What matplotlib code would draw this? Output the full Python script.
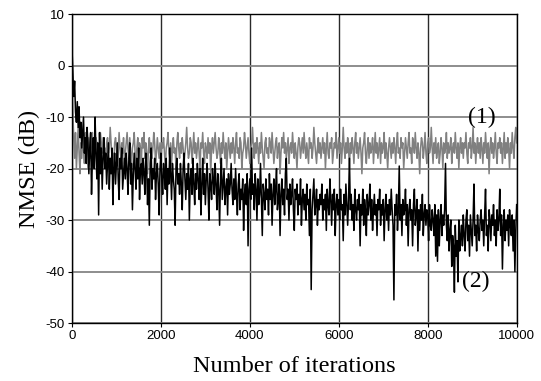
import numpy as np
import matplotlib
matplotlib.use("Agg")
import matplotlib.pyplot as plt

# iterations sampled every 20 steps
step = 20
n_iter = 10000

# curve (1), gray, NMSE in dB
nmse_1 = [
    -3, -9, -14, -18, -13, -20, -16, -12, -17, -21, -15, -18, -14, -16, -19, -13, -17, -15, -20, -14,
    -16, -18, -15, -13, -17, -19, -16, -14, -15, -18, -20, -16, -13, -15, -17, -14, -18, -16, -19, -15,
    -14, -17, -16, -12, -15, -18, -17, -20, -15, -14, -16, -19, -17, -13, -16, -18, -15, -17, -14, -19,
    -17, -15, -13, -16, -18, -14, -17, -19, -16, -15, -13, -17, -20, -16, -14, -18, -15, -16, -19, -14,
    -16, -13, -18, -15, -17, -21, -16, -14, -17, -15, -18, -16, -13, -15, -19, -17, -14, -16, -18, -15,
    -19, -15, -16, -14, -17, -20, -16, -15, -13, -17, -18, -15, -19, -16, -14, -17, -16, -20, -15, -13,
    -16, -18, -15, -17, -14, -16, -19, -17, -15, -12, -16, -18, -17, -14, -15, -19, -16, -13, -17, -15,
    -18, -16, -14, -17, -20, -15, -16, -13, -17, -19, -15, -16, -18, -14, -17, -15, -21, -16, -14, -17,
    -15, -13, -16, -18, -17, -14, -16, -19, -15, -17, -13, -16, -18, -15, -20, -17, -14, -16, -18, -15,
    -17, -14, -16, -19, -15, -13, -17, -16, -18, -14, -15, -20, -17, -16, -13, -15, -18, -16, -14, -17,
    -19, -16, -15, -12, -16, -18, -15, -17, -14, -16, -19, -15, -17, -13, -16, -18, -20, -15, -14, -17,
    -16, -18, -14, -15, -17, -13, -16, -19, -17, -15, -14, -18, -16, -15, -21, -17, -14, -16, -13, -17,
    -15, -18, -16, -14, -19, -16, -15, -17, -13, -16, -18, -15, -17, -20, -16, -14, -15, -18, -16, -14,
    -17, -13, -16, -18, -15, -17, -19, -14, -16, -15, -18, -16, -12, -15, -17, -19, -16, -14, -17, -15,
    -18, -16, -14, -17, -15, -20, -16, -13, -17, -18, -15, -16, -14, -19, -17, -15, -16, -13, -18, -16,
    -14, -17, -15, -19, -16, -12, -16, -18, -15, -17, -14, -16, -20, -15, -17, -14, -16, -19, -15, -13,
    -17, -15, -18, -16, -14, -17, -21, -16, -15, -13, -17, -19, -16, -14, -18, -15, -17, -16, -14, -19,
    -16, -13, -17, -15, -18, -16, -14, -19, -15, -17, -16, -13, -18, -15, -17, -20, -16, -14, -16, -18,
    -15, -17, -14, -16, -19, -15, -13, -17, -16, -18, -14, -16, -15, -20, -17, -14, -16, -18, -15, -13,
    -17, -16, -19, -14, -15, -17, -13, -16, -18, -15, -17, -21, -16, -14, -15, -18, -16, -13, -17, -19,
    -15, -14, -17, -16, -12, -16, -19, -15, -17, -14, -18, -16, -15, -19, -17, -14, -16, -20, -15, -17,
    -16, -13, -18, -15, -17, -16, -14, -19, -16, -15, -17, -13, -16, -18, -15, -20, -16, -14, -17, -15,
    -18, -15, -16, -13, -17, -19, -15, -16, -14, -18, -16, -12, -17, -15, -19, -16, -14, -17, -15, -18,
    -14, -16, -19, -15, -17, -13, -16, -18, -15, -21, -16, -14, -17, -15, -18, -16, -13, -17, -19, -15,
    -16, -14, -17, -15, -19, -16, -13, -18, -15, -17, -14, -16, -20, -15, -17, -13, -16, -18, -14, -12,
    -15,
]

# curve (2), black, NMSE in dB
nmse_2 = [
    3.5, -1, -6, -3, -9, -11, -7, -12, -8, -14, -11, -16, -13, -10, -17, -14, -19, -12, -15, -21,
    -16, -13, -25, -18, -14, -20, -10, -17, -22, -15, -29, -13, -21, -16, -24, -18, -14, -20, -17, -23,
    -19, -15, -24, -18, -21, -16, -27, -20, -17, -23, -19, -15, -22, -26, -18, -20, -16, -24, -21, -18,
    -22, -17, -20, -25, -18, -15, -23, -19, -28, -21, -17, -20, -24, -18, -22, -16, -26, -20, -19, -23,
    -18, -21, -25, -17, -20, -27, -22, -31, -19, -16, -24, -20, -22, -18, -26, -21, -19, -23, -29, -20,
    -17, -22, -25, -19, -21, -24, -18, -27, -20, -23, -16, -21, -26, -19, -22, -24, -31, -20, -18, -23,
    -21, -25, -19, -23, -28, -20, -17, -22, -26, -21, -24, -19, -30, -22, -20, -25, -18, -23, -27, -21,
    -24, -19, -22, -26, -20, -29, -23, -18, -25, -21, -27, -22, -19, -24, -30, -21, -23, -26, -20, -22,
    -25, -19, -23, -28, -21, -24, -31, -22, -18, -26, -23, -20, -27, -24, -22, -29, -21, -25, -23, -19,
    -24, -27, -22, -26, -20, -25, -29, -23, -21, -28, -24, -26, -22, -32, -25, -23, -27, -21, -35, -24,
    -22, -26, -16, -25, -23, -28, -21, -24, -30, -22, -27, -25, -19, -26, -33, -23, -25, -28, -22, -26,
    -24, -29, -21, -26, -23, -31, -25, -22, -27, -24, -20, -28, -26, -23, -33, -25, -22, -27, -24, -29,
    -21, -18, -26, -24, -30, -23, -27, -25, -22, -28, -32, -24, -26, -23, -29, -25, -27, -22, -31, -26,
    -24, -28, -25, -30, -23, -27, -26, -33, -24, -43.5, -28, -25, -22, -29, -27, -24, -31, -26, -28, -25,
    -27, -23, -30, -26, -28, -25, -32, -24, -27, -29, -22, -26, -31, -25, -28, -24, -33, -27, -25, -29,
    -26, -30, -24, -28, -27, -34, -25, -29, -23, -27, -31, -26, -18, -28, -25, -30, -27, -32, -24, -28,
    -30, -26, -28, -25, -35, -27, -29, -24, -31, -26, -28, -33, -25, -29, -27, -23, -30, -26, -32, -28,
    -25, -29, -27, -33, -26, -28, -24, -31, -27, -29, -26, -34, -28, -25, -30, -27, -32, -26, -29, -24,
    -28, -31, -45.5, -27, -29, -25, -32, -28, -19.5, -30, -27, -33, -26, -29, -28, -24, -31, -27, -35, -28,
    -26, -30, -28, -35, -27, -24, -31, -29, -26, -36, -28, -32, -27, -30, -25, -33, -29, -27, -31, -28,
    -29, -34, -27, -31, -32, -28, -30, -33, -27, -37, -29, -38, -28, -35, -30, -27, -33, -29, -31, -28,
    -19, -31, -34, -29, -36, -32, -30, -39, -33, -35, -44, -31, -37, -34, -42, -30, -36, -33, -31, -35,
    -29, -33, -36, -30, -28, -34, -31, -37, -29, -32, -35, -30, -23, -33, -31, -36, -29, -32, -34, -30,
    -28, -32, -30, -35, -29, -24, -33, -31, -36, -28, -30, -34, -29, -31, -27, -33, -30, -35, -28, -32,
    -30, -24, -33, -29, -39.5, -31, -28, -34, -30, -32, -29, -35, -28, -31, -33, -29, -36, -30, -40, -32,
    -27,
]

x_ticks = [0, 2000, 4000, 6000, 8000, 10000]
y_ticks = [-50, -40, -30, -20, -10, 0, 10]

plt.rcParams['axes.unicode_minus'] = False

fig = plt.figure(figsize=(5.41, 3.81), dpi=100)
ax = fig.add_axes([0.133, 0.152, 0.822, 0.811])

iters = np.arange(0, n_iter + 1, step)
ax.plot(iters, nmse_1, color='#808080', linewidth=1.1)
ax.plot(iters, nmse_2, color='black', linewidth=1.1)

ax.set_xlim(0, n_iter)
ax.set_ylim(-50, 10)
ax.set_xticks(x_ticks)
ax.set_yticks(y_ticks)
ax.tick_params(direction='out', length=3, width=0.8, pad=2)
for lab in ax.get_xticklabels() + ax.get_yticklabels():
    lab.set_family('Liberation Sans')
    lab.set_fontsize(9.5)

# horizontal grid lighter than vertical, as in the original
ax.yaxis.grid(True, color='#858585', linewidth=1.3)
ax.xaxis.grid(True, color='#2a2a2a', linewidth=1.0)
ax.set_axisbelow(True)
for sp in ax.spines.values():
    sp.set_linewidth(1.0)

ax.set_xlabel('Number of iterations', family='Liberation Serif', fontsize=17.5, labelpad=10)
ax.set_ylabel('NMSE (dB)', family='Liberation Serif', fontsize=17.5, labelpad=4)

ax.text(9220, -10, '(1)', family='Liberation Serif', fontsize=17, ha='center', va='center')
ax.text(9090, -42, '(2)', family='Liberation Serif', fontsize=17, ha='center', va='center')

plt.savefig('out.png', dpi=100)
